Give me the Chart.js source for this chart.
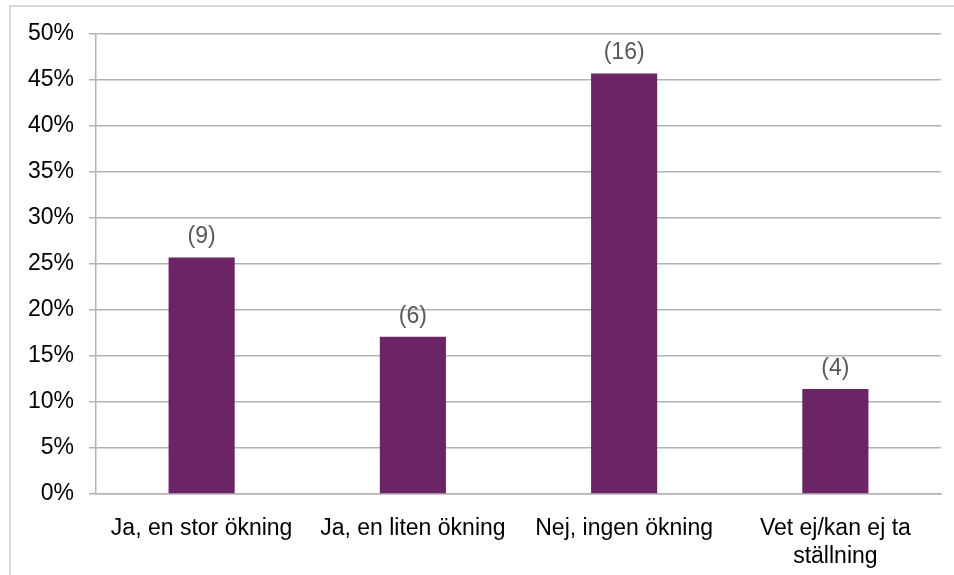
<!DOCTYPE html>
<html>
<head>
<meta charset="utf-8">
<script src="https://cdn.jsdelivr.net/npm/chart.js@4"></script>
<style>
  html, body { margin: 0; padding: 0; background: #fff; }
  #wrap { width: 954px; height: 575px; }
</style>
</head>
<body>
<div id="wrap"><canvas id="grafico" width="954" height="575"></canvas></div>
<script>
// Data
const kategorier = ["Ja, en stor ökning", "Ja, en liten ökning", "Nej, ingen ökning", ["Vet ej/kan ej ta", "ställning"]];
const antal = [9, 6, 16, 4];
const andel = [0.257, 0.171, 0.457, 0.114];
const yTicks = [0, 0.05, 0.10, 0.15, 0.20, 0.25, 0.30, 0.35, 0.40, 0.45, 0.50];

const FONT = "'Liberation Sans', Arial, sans-serif";

// ram runt diagrammet
const ramPlugin = {
    id: "ram",
    beforeDraw(chart) {
        const c = chart.ctx;
        c.save();
        c.fillStyle = "#fff";
        c.fillRect(0, 0, chart.width, chart.height);
        c.strokeStyle = "#d9d9d9";
        c.lineWidth = 2;
        c.beginPath();
        c.moveTo(10, chart.height);
        c.lineTo(10, 6);
        c.lineTo(chart.width, 6);
        c.stroke();
        c.restore();
    }
};

// antal ovanför staplarna
const etikettPlugin = {
    id: "etiketter",
    afterDatasetsDraw(chart) {
        const c = chart.ctx;
        const meta = chart.getDatasetMeta(0);
        c.save();
        c.font = "23px " + FONT;
        c.fillStyle = "#595959";
        c.textAlign = "center";
        c.textBaseline = "bottom";
        meta.data.forEach((bar, i) => {
            c.fillText("(" + antal[i] + ")", bar.x, bar.y - 9);
        });
        c.restore();
    }
};

new Chart(document.getElementById("grafico").getContext("2d"), {
    type: "bar",
    data: {
        labels: kategorier,
        datasets: [{
            data: andel,
            backgroundColor: "#6b2567",
            barPercentage: 0.313,
            categoryPercentage: 1.0
        }]
    },
    options: {
        responsive: false,
        animation: false,
        layout: { padding: { top: 34, right: 13, left: 0, bottom: 0 } },
        plugins: { legend: { display: false }, tooltip: { enabled: false } },
        scales: {
            y: {
                min: 0,
                max: 0.5,
                afterFit(s) { s.width = 96; },
                afterBuildTicks(s) { s.ticks = yTicks.map(v => ({ value: v })); },
                grid: { color: "#b3b3b3", lineWidth: 1.5, tickLength: 7 },
                border: { color: "#b3b3b3", width: 1.5 },
                ticks: {
                    color: "#000",
                    padding: 15,
                    font: { family: FONT, size: 23 },
                    callback: v => Math.round(v * 100) + "%"
                }
            },
            x: {
                afterFit(s) { s.height = 81; },
                grid: { display: false },
                border: { color: "#b3b3b3", width: 1.5 },
                ticks: {
                    color: "#000",
                    padding: 13,
                    maxRotation: 0,
                    font: { family: FONT, size: 23, lineHeight: 1.22 }
                }
            }
        }
    },
    plugins: [ramPlugin, etikettPlugin]
});
</script>
</body>
</html>
